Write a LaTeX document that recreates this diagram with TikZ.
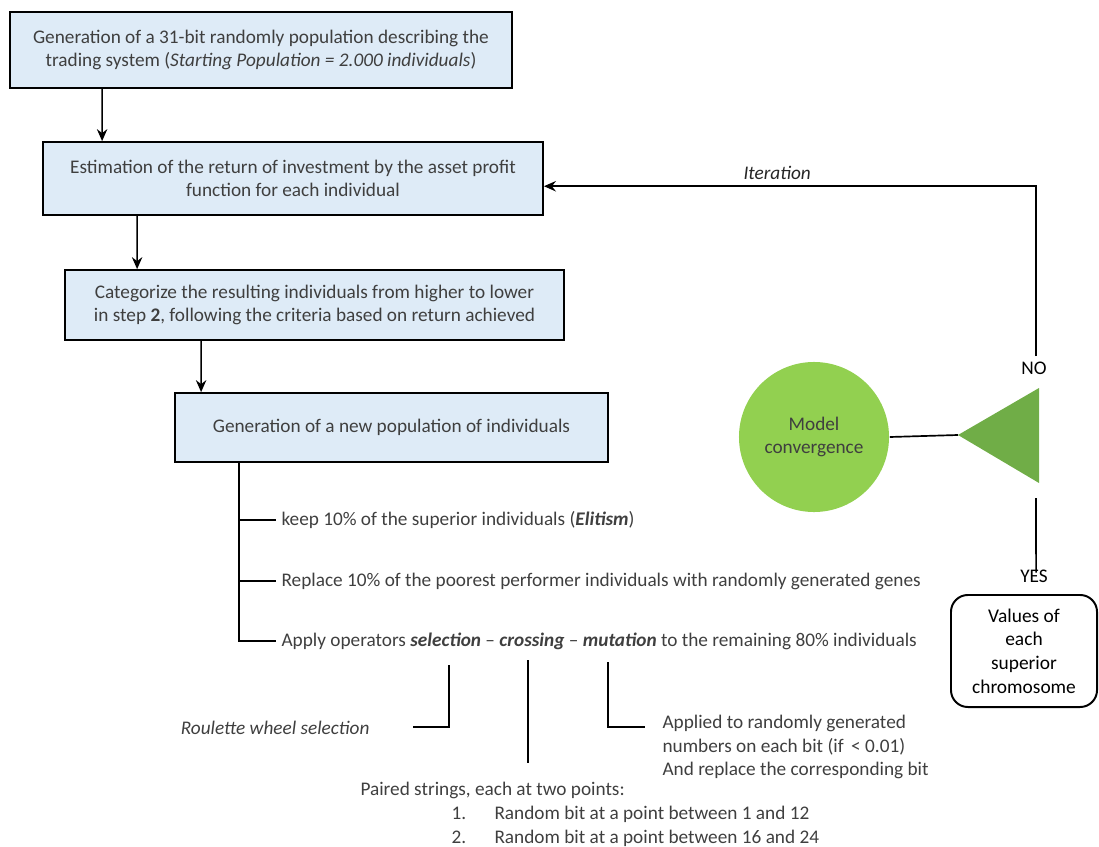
\documentclass[tikz,border=0pt]{standalone}
\usepackage{fontspec}
\setmainfont{Carlito}
\usetikzlibrary{arrows.meta}
\definecolor{boxblue}{HTML}{DEEBF7}
\definecolor{lightgreen}{HTML}{92D050}
\definecolor{darkgreen}{HTML}{70AD47}
\definecolor{txtgray}{HTML}{3F3F3F}

\begin{document}
\begin{tikzpicture}[x=0.025cm, y=-0.025cm, every node/.style={font=\fontsize{13.7}{16.4}\selectfont, text=txtgray}, >={Stealth[length=3mm, width=2.6mm, inset=1mm]}, line width=1.2pt, stepbox/.style={draw, fill=boxblue, align=center, inner sep=4pt}, lbl/.style={anchor=west, align=left}]
	\useasboundingbox (0,0) rectangle (1099,847);
	\node[stepbox, minimum width=12.55cm, minimum height=1.9cm] (gen) at (261,50) {Generation of a 31-bit randomly population describing the\\ trading system (\textit{Starting Population = 2.000 individuals})};
	\node[stepbox, minimum width=12.5cm, minimum height=1.825cm] (est) at (293,178.5) {Estimation of the return of investment by the asset profit\\ function for each individual};
	\node[stepbox, minimum width=12.475cm, minimum height=1.75cm] (cat) at (314.5,305) {Categorize the resulting individuals from higher to lower\\ in step \textbf{2}, following the criteria based on return achieved};
	\node[stepbox, minimum width=10.825cm, minimum height=1.725cm] (newpop) at (391.5,427.5) {Generation of a new population of individuals};
	\draw[->] ([xshift=2.325cm]gen.south west) -- ([xshift=1.5cm]est.north west);
	\draw[->] ([xshift=2.375cm]est.south west) -- ([xshift=1.825cm]cat.north west);
	\draw[->] ([xshift=3.425cm]cat.south west) -- ([xshift=0.675cm]newpop.north west);
	% operators of the new population
	\node[lbl] (keep) at (276,520) {keep 10\% of the superior individuals (\textbf{\textit{Elitism}})};
	\node[lbl] (repl) at (276,581) {Replace 10\% of the poorest performer individuals with randomly generated genes};
	\node[lbl] (apply) at (276,641) {Apply operators \textbf{\textit{selection}} -- \textbf{\textit{crossing}} -- \textbf{\textit{mutation}} to the remaining 80\% individuals};
	\draw ([xshift=1.625cm]newpop.south west) |- (keep.west);
	\draw ([xshift=1.625cm]newpop.south west) |- (repl.west);
	\draw ([xshift=1.625cm]newpop.south west) |- (apply.west);
	% details of the operators
	\coordinate (sel) at (449,665);
	\coordinate (selend) at (413,727);
	\coordinate (cro) at (528,660);
	\coordinate (croend) at (528,763);
	\coordinate (mut) at (608,662);
	\coordinate (mutend) at (645,727);
	\node[anchor=east] (roul) at (375,728) {\textit{Roulette wheel selection}};
	\node[lbl] (mutxt) at (657,747) {Applied to randomly generated\\ numbers on each bit (if \,< 0.01)\\ And replace the corresponding bit};
	\node[lbl] (pairs) at (355,790) {Paired strings, each at two points:};
	\node[lbl] (itema) at (446,814) {\makebox[1.075cm][l]{1.}Random bit at a point between 1 and 12};
	\node[lbl] (itemb) at (446,838) {\makebox[1.075cm][l]{2.}Random bit at a point between 16 and 24};
	\draw (sel) |- (selend);
	\draw (cro) -- (croend);
	\draw (mut) |- (mutend);
	% convergence test
	\node[circle, fill=lightgreen, minimum size=3.75cm, align=center, inner sep=0pt] (conv) at (814,437) {Model\\ convergence};
	\coordinate (tip) at (958,435);
	\coordinate (tritop) at (1039,388);
	\coordinate (tribot) at (1039,483);
	\fill[darkgreen] (tip) -- (tritop) -- (tribot) -- cycle;
	\draw (conv.east) -- (tip);
	\node[text=black] (no) at (1034,368) {NO};
	\node[text=black] (yes) at (1034,576) {YES};
	\coordinate (yestop) at (1036,498);
	\draw[->] ([xshift=1.5pt]no.north) |- ([yshift=-5.5pt]est.east) node[pos=0.763, above=1pt, text=black!85] {\textit{Iteration}};
	\draw (yestop) -- ([xshift=1.5pt, yshift=-6pt]yes.north);
	\node[draw, rounded corners=12pt, line width=1.4pt, text=black, align=center, minimum width=3.65cm, minimum height=2.8cm, inner sep=2pt, font=\fontsize{13.8}{16.9}\selectfont] (vals) at (1024,651) {Values of\\ each\\ superior\\ chromosome};
\end{tikzpicture}
\end{document}
